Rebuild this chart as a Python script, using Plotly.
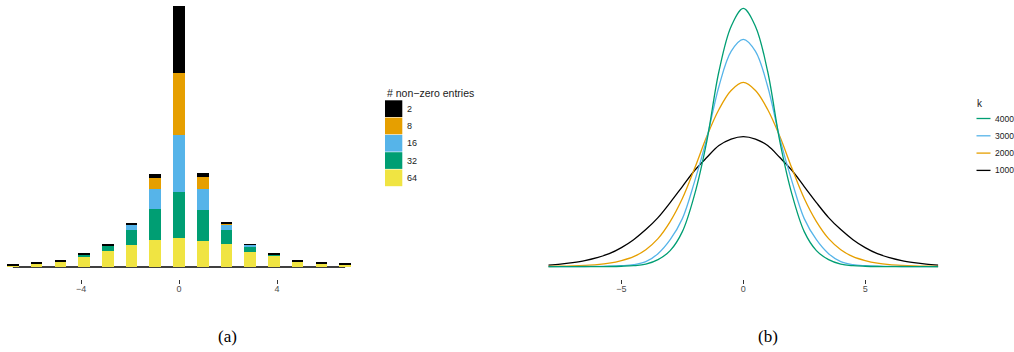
import plotly.graph_objects as go

# ---------------- data: panel (a) ----------------
bar_x = [-6.78, -5.81, -4.84, -3.88, -2.91, -1.94, -0.97, 0.0,
         0.97, 1.94, 2.91, 3.88, 4.84, 5.81, 6.78]
entries_labels = ["2", "8", "16", "32", "64"]
vals_64 = [4, 10, 16, 31, 49, 67, 82, 88, 79, 70, 46, 34, 16, 10, 7]
vals_32 = [0, 0, 0, 6, 15, 45, 93, 136, 93, 42, 15, 3, 0, 0, 0]
vals_16 = [0, 0, 0, 0, 0, 15, 60, 171, 63, 14, 5, 0, 0, 0, 0]
vals_8 = [0, 0, 0, 0, 0, 1, 33, 188, 36, 4, 0, 0, 0, 0, 0]
vals_2 = [3, 3, 3, 3, 3, 3, 12, 199, 12, 3, 3, 3, 3, 3, 3]
ticks_a = [-4, 0, 4]

# ---------------- data: panel (b) ----------------
curve_x = [-8.0, -7.5, -7.0, -6.5, -6.0, -5.5, -5.0, -4.5, -4.0, -3.5, -3.0,
           -2.5, -2.0, -1.5, -1.0, -0.5, 0.0, 0.5, 1.0, 1.5, 2.0, 2.5, 3.0,
           3.5, 4.0, 4.5, 5.0, 5.5, 6.0, 6.5, 7.0, 7.5, 8.0]
k_labels = ["4000", "3000", "2000", "1000"]
dens_1000 = [.0019, .0031, .0050, .0075, .0112, .0161, .0236, .0335, .0460, .0609,
             .0795, .0994, .1193, .1354, .1503, .1584, .1615, .1584, .1503, .1354,
             .1193, .0994, .0795, .0609, .0460, .0335, .0236, .0161, .0112, .0075,
             .0050, .0031, .0019]
dens_2000 = [.0002, .0005, .0009, .0015, .0025, .0043, .0075, .0124, .0211, .0348,
             .0559, .0845, .1217, .1615, .1950, .2186, .2286, .2186, .1950, .1615,
             .1217, .0845, .0559, .0348, .0211, .0124, .0075, .0043, .0025, .0015,
             .0009, .0005, .0002]
dens_3000 = [.0000, .0001, .0001, .0002, .0004, .0006, .0012, .0025, .0062, .0161,
             .0335, .0596, .1056, .1590, .2236, .2671, .2820, .2671, .2236, .1590,
             .1056, .0596, .0335, .0161, .0062, .0025, .0012, .0006, .0004, .0002,
             .0001, .0001, .0000]
dens_4000 = [.0000, .0000, .0000, .0000, .0001, .0002, .0005, .0012, .0031, .0087,
             .0199, .0435, .0894, .1553, .2422, .2981, .3205, .2981, .2422, .1553,
             .0894, .0435, .0199, .0087, .0031, .0012, .0005, .0002, .0001, .0000,
             .0000, .0000, .0000]
ticks_b = [-5, 0, 5]

# ---------------- styles ----------------
W, H = 1014, 352
C_BLACK, C_ORANGE, C_SKY, C_GREEN, C_YELLOW = "#000000", "#E69F00", "#56B4E9", "#009E73", "#F0E442"
entries_colors = [C_BLACK, C_ORANGE, C_SKY, C_GREEN, C_YELLOW]
k_colors = [C_GREEN, C_SKY, C_ORANGE, C_BLACK]
SANS = "Liberation Sans, Arial, sans-serif"
SERIF = "Liberation Serif, Times New Roman, serif"


def px(x):
    return x / W


def py(y):
    return 1 - y / H


fig = go.Figure()

# stacked bars (bottom to top: 64, 32, 16, 8, 2)
stack = [(vals_64, C_YELLOW), (vals_32, C_GREEN), (vals_16, C_SKY), (vals_8, C_ORANGE), (vals_2, C_BLACK)]
for vals, col in stack:
    fig.add_trace(go.Bar(x=bar_x, y=vals, width=0.476, marker=dict(color=col, line=dict(width=0)),
                         showlegend=False, xaxis="x", yaxis="y", hoverinfo="skip"))

# density curves (drawn 1000 first so 4000 ends on top)
for dens, col in [(dens_1000, C_BLACK), (dens_2000, C_ORANGE), (dens_3000, C_SKY), (dens_4000, C_GREEN)]:
    fig.add_trace(go.Scatter(x=curve_x, y=dens, mode="lines",
                             line=dict(color=col, width=1.3, shape="spline", smoothing=1.0),
                             showlegend=False, xaxis="x2", yaxis="y2", hoverinfo="skip"))

shapes = []
# baseline under the bars
shapes.append(dict(type="line", xref="x", yref="y", x0=bar_x[0], x1=bar_x[-1], y0=0, y1=0,
                   line=dict(color="black", width=1.3), layer="below"))

annotations = []
# legend (a)
annotations.append(dict(text="# non\u2212zero entries", x=px(385), y=py(93), xref="paper", yref="paper",
                        xanchor="left", yanchor="middle", showarrow=False,
                        font=dict(family=SANS, size=10.5, color="#1a1a1a")))
key_h = 17.3
for i, (lab, col) in enumerate(zip(entries_labels, entries_colors)):
    y0 = 100 + i * key_h
    shapes.append(dict(type="rect", xref="paper", yref="paper", x0=px(385), x1=px(402.3),
                       y0=py(y0 + 0.3), y1=py(y0 + key_h - 0.3), fillcolor=col, line=dict(width=0)))
    annotations.append(dict(text=lab, x=px(404.5), y=py(y0 + key_h / 2), xref="paper", yref="paper",
                            xanchor="left", yanchor="middle", showarrow=False,
                            font=dict(family=SANS, size=9, color="#1a1a1a")))

# legend (b)
annotations.append(dict(text="k", x=px(974.5), y=py(103), xref="paper", yref="paper",
                        xanchor="left", yanchor="middle", showarrow=False,
                        font=dict(family=SANS, size=10, color="#1a1a1a")))
for i, (lab, col) in enumerate(zip(k_labels, k_colors)):
    yc = 118.5 + i * 17.3
    shapes.append(dict(type="line", xref="paper", yref="paper", x0=px(976.5), x1=px(990.5),
                       y0=py(yc), y1=py(yc), line=dict(color=col, width=1.3)))
    annotations.append(dict(text=lab, x=px(992.5), y=py(yc), xref="paper", yref="paper",
                            xanchor="left", yanchor="middle", showarrow=False,
                            font=dict(family=SANS, size=8.5, color="#1a1a1a")))

# captions
for lab, xc in [("(a)", 227), ("(b)", 768)]:
    annotations.append(dict(text=lab, x=px(xc), y=py(336), xref="paper", yref="paper",
                            xanchor="center", yanchor="middle", showarrow=False,
                            font=dict(family=SERIF, size=17, color="black")))

axis_common = dict(showgrid=False, zeroline=False, showline=False, ticks="outside", ticklen=4,
                   tickwidth=1, tickcolor="#333333", tickfont=dict(family=SANS, size=9, color="#4d4d4d"),
                   ticklabelstandoff=-3, fixedrange=True)

fig.update_layout(
    width=W, height=H, margin=dict(l=0, r=0, t=0, b=0),
    paper_bgcolor="white", plot_bgcolor="white", barmode="stack", bargap=0,
    xaxis=dict(domain=[0, px(357)], range=[-179 / 24.5, (357 - 179) / 24.5],
               tickmode="array", tickvals=ticks_a, anchor="y", **axis_common),
    yaxis=dict(domain=[py(279), py(3)], range=[-36, 792], visible=False, anchor="x"),
    xaxis2=dict(domain=[px(548.3), px(938.3)], range=[-8, 8],
                tickmode="array", tickvals=ticks_b, anchor="y2", **axis_common),
    yaxis2=dict(domain=[py(279), py(3)], range=[-0.0153, 0.3272], visible=False, anchor="x2"),
    shapes=shapes, annotations=annotations, showlegend=False,
)

fig.write_html("out.html", config={"displayModeBar": False},
               post_script="document.body.style.margin='0';document.body.style.overflow='hidden';")
